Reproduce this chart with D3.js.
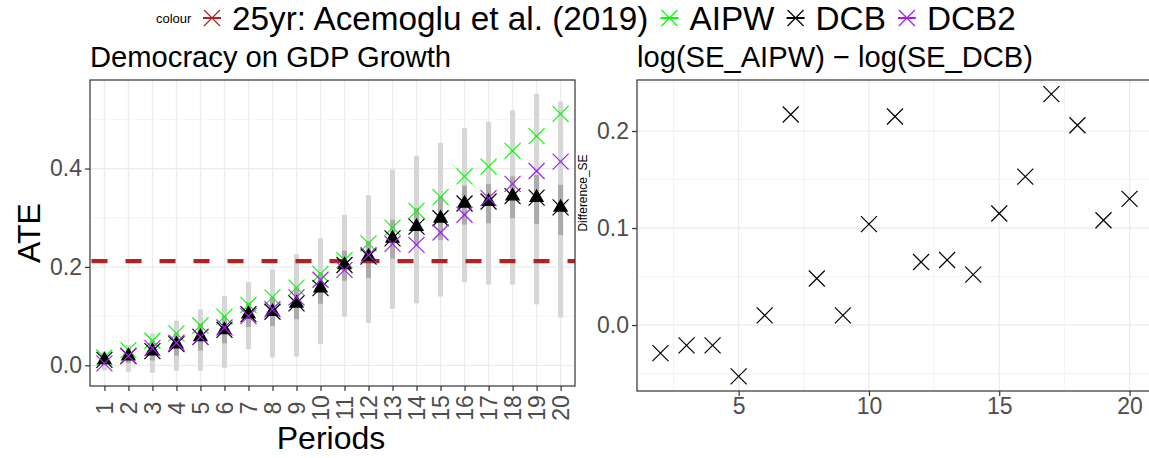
<!DOCTYPE html>
<html>
<head>
<meta charset="utf-8">
<script src="https://cdn.jsdelivr.net/npm/d3@7"></script>
<style>
  body { margin: 0; background: #fff; }
  svg { display: block; font-family: "Liberation Sans", Arial, sans-serif; }
</style>
</head>
<body>
<div id="chart"></div>
<script>
// left panel: ATE by period
const periods = [1, 2, 3, 4, 5, 6, 7, 8, 9, 10, 11, 12, 13, 14, 15, 16, 17, 18, 19, 20];
const aipw = [0.016, 0.031, 0.050, 0.065, 0.081, 0.099, 0.123, 0.138, 0.158, 0.186, 0.214, 0.248, 0.280, 0.314, 0.342, 0.384, 0.404, 0.436, 0.466, 0.511];
const dcb = [0.011, 0.019, 0.029, 0.043, 0.058, 0.072, 0.104, 0.109, 0.126, 0.157, 0.204, 0.221, 0.258, 0.282, 0.299, 0.329, 0.333, 0.344, 0.341, 0.321];
const dcb2 = [0.004, 0.019, 0.035, 0.046, 0.058, 0.077, 0.100, 0.114, 0.138, 0.174, 0.194, 0.224, 0.247, 0.245, 0.270, 0.306, 0.340, 0.369, 0.395, 0.414];
// wide interval (light) and narrow interval (dark)
const wideLow = [-0.010, -0.013, -0.015, -0.011, -0.011, -0.005, 0.033, 0.016, 0.018, 0.043, 0.099, 0.086, 0.115, 0.126, 0.140, 0.169, 0.164, 0.164, 0.124, 0.097];
const wideHigh = [0.028, 0.041, 0.065, 0.091, 0.114, 0.141, 0.169, 0.195, 0.226, 0.258, 0.306, 0.346, 0.398, 0.426, 0.452, 0.482, 0.495, 0.518, 0.552, 0.536];
const narrowLow = [0.000, 0.005, 0.010, 0.020, 0.030, 0.045, 0.078, 0.080, 0.094, 0.125, 0.172, 0.178, 0.217, 0.245, 0.255, 0.286, 0.289, 0.299, 0.287, 0.265];
const narrowHigh = [0.020, 0.033, 0.050, 0.065, 0.085, 0.100, 0.128, 0.138, 0.158, 0.189, 0.233, 0.253, 0.296, 0.320, 0.343, 0.365, 0.369, 0.384, 0.387, 0.367];
const benchmark = 0.212; // 25yr: Acemoglu et al. (2019)

// right panel: log(SE_AIPW) - log(SE_DCB)
const diffPeriods = [2, 3, 4, 5, 6, 7, 8, 9, 10, 11, 12, 13, 14, 15, 16, 17, 18, 19, 20];
const diffSE = [-0.029, -0.021, -0.021, -0.053, 0.010, 0.217, 0.048, 0.010, 0.104, 0.215, 0.065, 0.067, 0.052, 0.115, 0.153, 0.238, 0.206, 0.108, 0.130];

// legend
const legendLabels = ['25yr: Acemoglu et al. (2019)', 'AIPW', 'DCB', 'DCB2'];
const legendColors = ['#B22222', '#00FF00', '#000000', '#A020F0'];

const width = 1149;
const height = 458;
const gridColor = '#EBEBEB';
const axisColor = '#333333';
const labelColor = '#4D4D4D';

const svg = d3.select('#chart')
  .append('svg')
  .attr('width', width)
  .attr('height', height);

// draws an "x" marker
function cross(g, x, y, r, color) {
  g.append('path')
    .attr('d', `M${x - r},${y - r}L${x + r},${y + r}M${x - r},${y + r}L${x + r},${y - r}`)
    .attr('stroke', color)
    .attr('stroke-width', 1.2)
    .attr('fill', 'none');
}

// text stretched to a given width
function fitText(g, x, y, size, w, str) {
  return g.append('text')
    .attr('x', x).attr('y', y)
    .attr('font-size', size).attr('fill', '#000')
    .attr('textLength', w).attr('lengthAdjust', 'spacingAndGlyphs')
    .text(str);
}

// ---------- legend ----------
const legend = svg.append('g');
legend.append('text')
  .attr('x', 156).attr('y', 23)
  .attr('font-size', 13).attr('fill', '#000')
  .text('colour');
let lx = 203; // left edge of first key
legendLabels.forEach(function(label, i) {
  const kx = lx + 9;
  cross(legend, kx, 18, 8, legendColors[i]);
  legend.append('line')
    .attr('x1', kx - 9).attr('x2', kx + 9)
    .attr('y1', 18).attr('y2', 18)
    .attr('stroke', legendColors[i]).attr('stroke-width', 2);
  const t = legend.append('text')
    .attr('x', kx + 20).attr('y', 30)
    .attr('font-size', 33.3).attr('fill', '#000')
    .text(label);
  lx = kx + 20 + t.node().getComputedTextLength() + 12;
});

// ---------- left panel ----------
const left = { x0: 90, x1: 575, y0: 80, y1: 386 };
const x = d3.scalePoint().domain(periods).range([left.x0, left.x1]).padding(0.6);
const y = d3.scaleLinear().domain([-0.042, 0.580]).range([left.y1, left.y0]);

const lp = svg.append('g');
fitText(lp, 90, 67, 29, 361, 'Democracy on GDP Growth');

// grid
[0.1, 0.3, 0.5].forEach(function(v) {
  lp.append('line').attr('x1', left.x0).attr('x2', left.x1)
    .attr('y1', y(v)).attr('y2', y(v))
    .attr('stroke', gridColor).attr('stroke-width', 0.6);
});
[0, 0.2, 0.4].forEach(function(v) {
  lp.append('line').attr('x1', left.x0).attr('x2', left.x1)
    .attr('y1', y(v)).attr('y2', y(v))
    .attr('stroke', gridColor).attr('stroke-width', 1.2);
});
periods.forEach(function(p) {
  lp.append('line').attr('x1', x(p)).attr('x2', x(p))
    .attr('y1', left.y0).attr('y2', left.y1)
    .attr('stroke', gridColor).attr('stroke-width', 1.2);
});

// interval bars
lp.selectAll('.wide')
  .data(periods)
  .enter()
  .append('rect')
  .attr('x', d => x(d) - 2.5)
  .attr('width', 5)
  .attr('y', (d, i) => y(wideHigh[i]))
  .attr('height', (d, i) => y(wideLow[i]) - y(wideHigh[i]))
  .attr('fill', '#D6D6D6');
lp.selectAll('.narrow')
  .data(periods)
  .enter()
  .append('rect')
  .attr('x', d => x(d) - 2.5)
  .attr('width', 5)
  .attr('y', (d, i) => y(narrowHigh[i]))
  .attr('height', (d, i) => y(narrowLow[i]) - y(narrowHigh[i]))
  .attr('fill', '#ABABAB');

// benchmark line
lp.append('line')
  .attr('x1', left.x0).attr('x2', left.x1)
  .attr('y1', y(benchmark)).attr('y2', y(benchmark))
  .attr('stroke', '#B22222').attr('stroke-width', 4.2)
  .attr('stroke-dasharray', '16,18')
  .attr('stroke-dashoffset', -1.5);

// points
periods.forEach(function(p, i) {
  cross(lp, x(p), y(aipw[i]), 8, '#00FF00');
});
periods.forEach(function(p, i) {
  cross(lp, x(p), y(dcb[i]), 8, '#000000');
  lp.append('path')
    .attr('d', d3.symbol().type(d3.symbolTriangle).size(100)())
    .attr('transform', `translate(${x(p)},${y(dcb[i])})`)
    .attr('fill', '#000');
});
periods.forEach(function(p, i) {
  cross(lp, x(p), y(dcb2[i]), 8, '#A020F0');
});

// border
lp.append('rect')
  .attr('x', left.x0).attr('y', left.y0)
  .attr('width', left.x1 - left.x0).attr('height', left.y1 - left.y0)
  .attr('fill', 'none').attr('stroke', axisColor).attr('stroke-width', 1.2);

// axes
const yAxisL = lp.append('g')
  .attr('transform', `translate(${left.x0},0)`)
  .call(d3.axisLeft(y).tickValues([0, 0.2, 0.4]).tickFormat(d3.format('.1f')).tickSize(5).tickPadding(3));
const xAxisL = lp.append('g')
  .attr('transform', `translate(0,${left.y1})`)
  .call(d3.axisBottom(x).tickSize(5));
xAxisL.selectAll('text')
  .attr('transform', 'rotate(-90)')
  .attr('text-anchor', 'middle')
  .attr('dominant-baseline', 'central')
  .attr('x', -22)
  .attr('y', 0)
  .attr('dy', 0);
[yAxisL, xAxisL].forEach(function(a) {
  a.select('.domain').remove();
  a.selectAll('line').attr('stroke', axisColor).attr('stroke-width', 1.2);
  a.selectAll('text').attr('font-size', 23).attr('fill', labelColor).attr('font-family', 'Liberation Sans, Arial, sans-serif');
});

lp.append('text')
  .attr('x', 331).attr('y', 449)
  .attr('text-anchor', 'middle')
  .attr('font-size', 32).attr('fill', '#000')
  .text('Periods');
lp.append('text')
  .attr('transform', `translate(40,${(left.y0 + left.y1) / 2}) rotate(-90)`)
  .attr('text-anchor', 'middle')
  .attr('font-size', 32).attr('fill', '#000')
  .text('ATE');

// ---------- right panel ----------
const right = { x0: 637, x1: 1153, y0: 80, y1: 391 };
const x2 = d3.scaleLinear().domain([1.1, 20.9]).range([right.x0, right.x1]);
const y2 = d3.scaleLinear().domain([-0.068, 0.2526]).range([right.y1, right.y0]);

const rp = svg.append('g');
fitText(rp, 637, 67, 29, 396, 'log(SE_AIPW) \u2212 log(SE_DCB)');

[-0.05, 0.05, 0.15, 0.25].forEach(function(v) {
  rp.append('line').attr('x1', right.x0).attr('x2', right.x1)
    .attr('y1', y2(v)).attr('y2', y2(v))
    .attr('stroke', gridColor).attr('stroke-width', 0.6);
});
[2.5, 7.5, 12.5, 17.5].forEach(function(v) {
  rp.append('line').attr('x1', x2(v)).attr('x2', x2(v))
    .attr('y1', right.y0).attr('y2', right.y1)
    .attr('stroke', gridColor).attr('stroke-width', 0.6);
});
[0, 0.1, 0.2].forEach(function(v) {
  rp.append('line').attr('x1', right.x0).attr('x2', right.x1)
    .attr('y1', y2(v)).attr('y2', y2(v))
    .attr('stroke', gridColor).attr('stroke-width', 1.2);
});
[5, 10, 15, 20].forEach(function(v) {
  rp.append('line').attr('x1', x2(v)).attr('x2', x2(v))
    .attr('y1', right.y0).attr('y2', right.y1)
    .attr('stroke', gridColor).attr('stroke-width', 1.2);
});

diffPeriods.forEach(function(p, i) {
  cross(rp, x2(p), y2(diffSE[i]), 8, '#000000');
});

rp.append('rect')
  .attr('x', right.x0).attr('y', right.y0)
  .attr('width', right.x1 - right.x0).attr('height', right.y1 - right.y0)
  .attr('fill', 'none').attr('stroke', axisColor).attr('stroke-width', 1.2);

const yAxisR = rp.append('g')
  .attr('transform', `translate(${right.x0},0)`)
  .call(d3.axisLeft(y2).tickValues([0, 0.1, 0.2]).tickFormat(d3.format('.1f')).tickSize(5).tickPadding(3));
const xAxisR = rp.append('g')
  .attr('transform', `translate(0,${right.y1})`)
  .call(d3.axisBottom(x2).tickValues([5, 10, 15, 20]).tickSize(5).tickPadding(2));
[yAxisR, xAxisR].forEach(function(a) {
  a.select('.domain').remove();
  a.selectAll('line').attr('stroke', axisColor).attr('stroke-width', 1.2);
  a.selectAll('text').attr('font-size', 23).attr('fill', labelColor).attr('font-family', 'Liberation Sans, Arial, sans-serif');
});

rp.append('text')
  .attr('transform', 'translate(587,193) rotate(-90)')
  .attr('text-anchor', 'middle')
  .attr('font-size', 12).attr('fill', '#000')
  .text('Difference_SE');
</script>
</body>
</html>
